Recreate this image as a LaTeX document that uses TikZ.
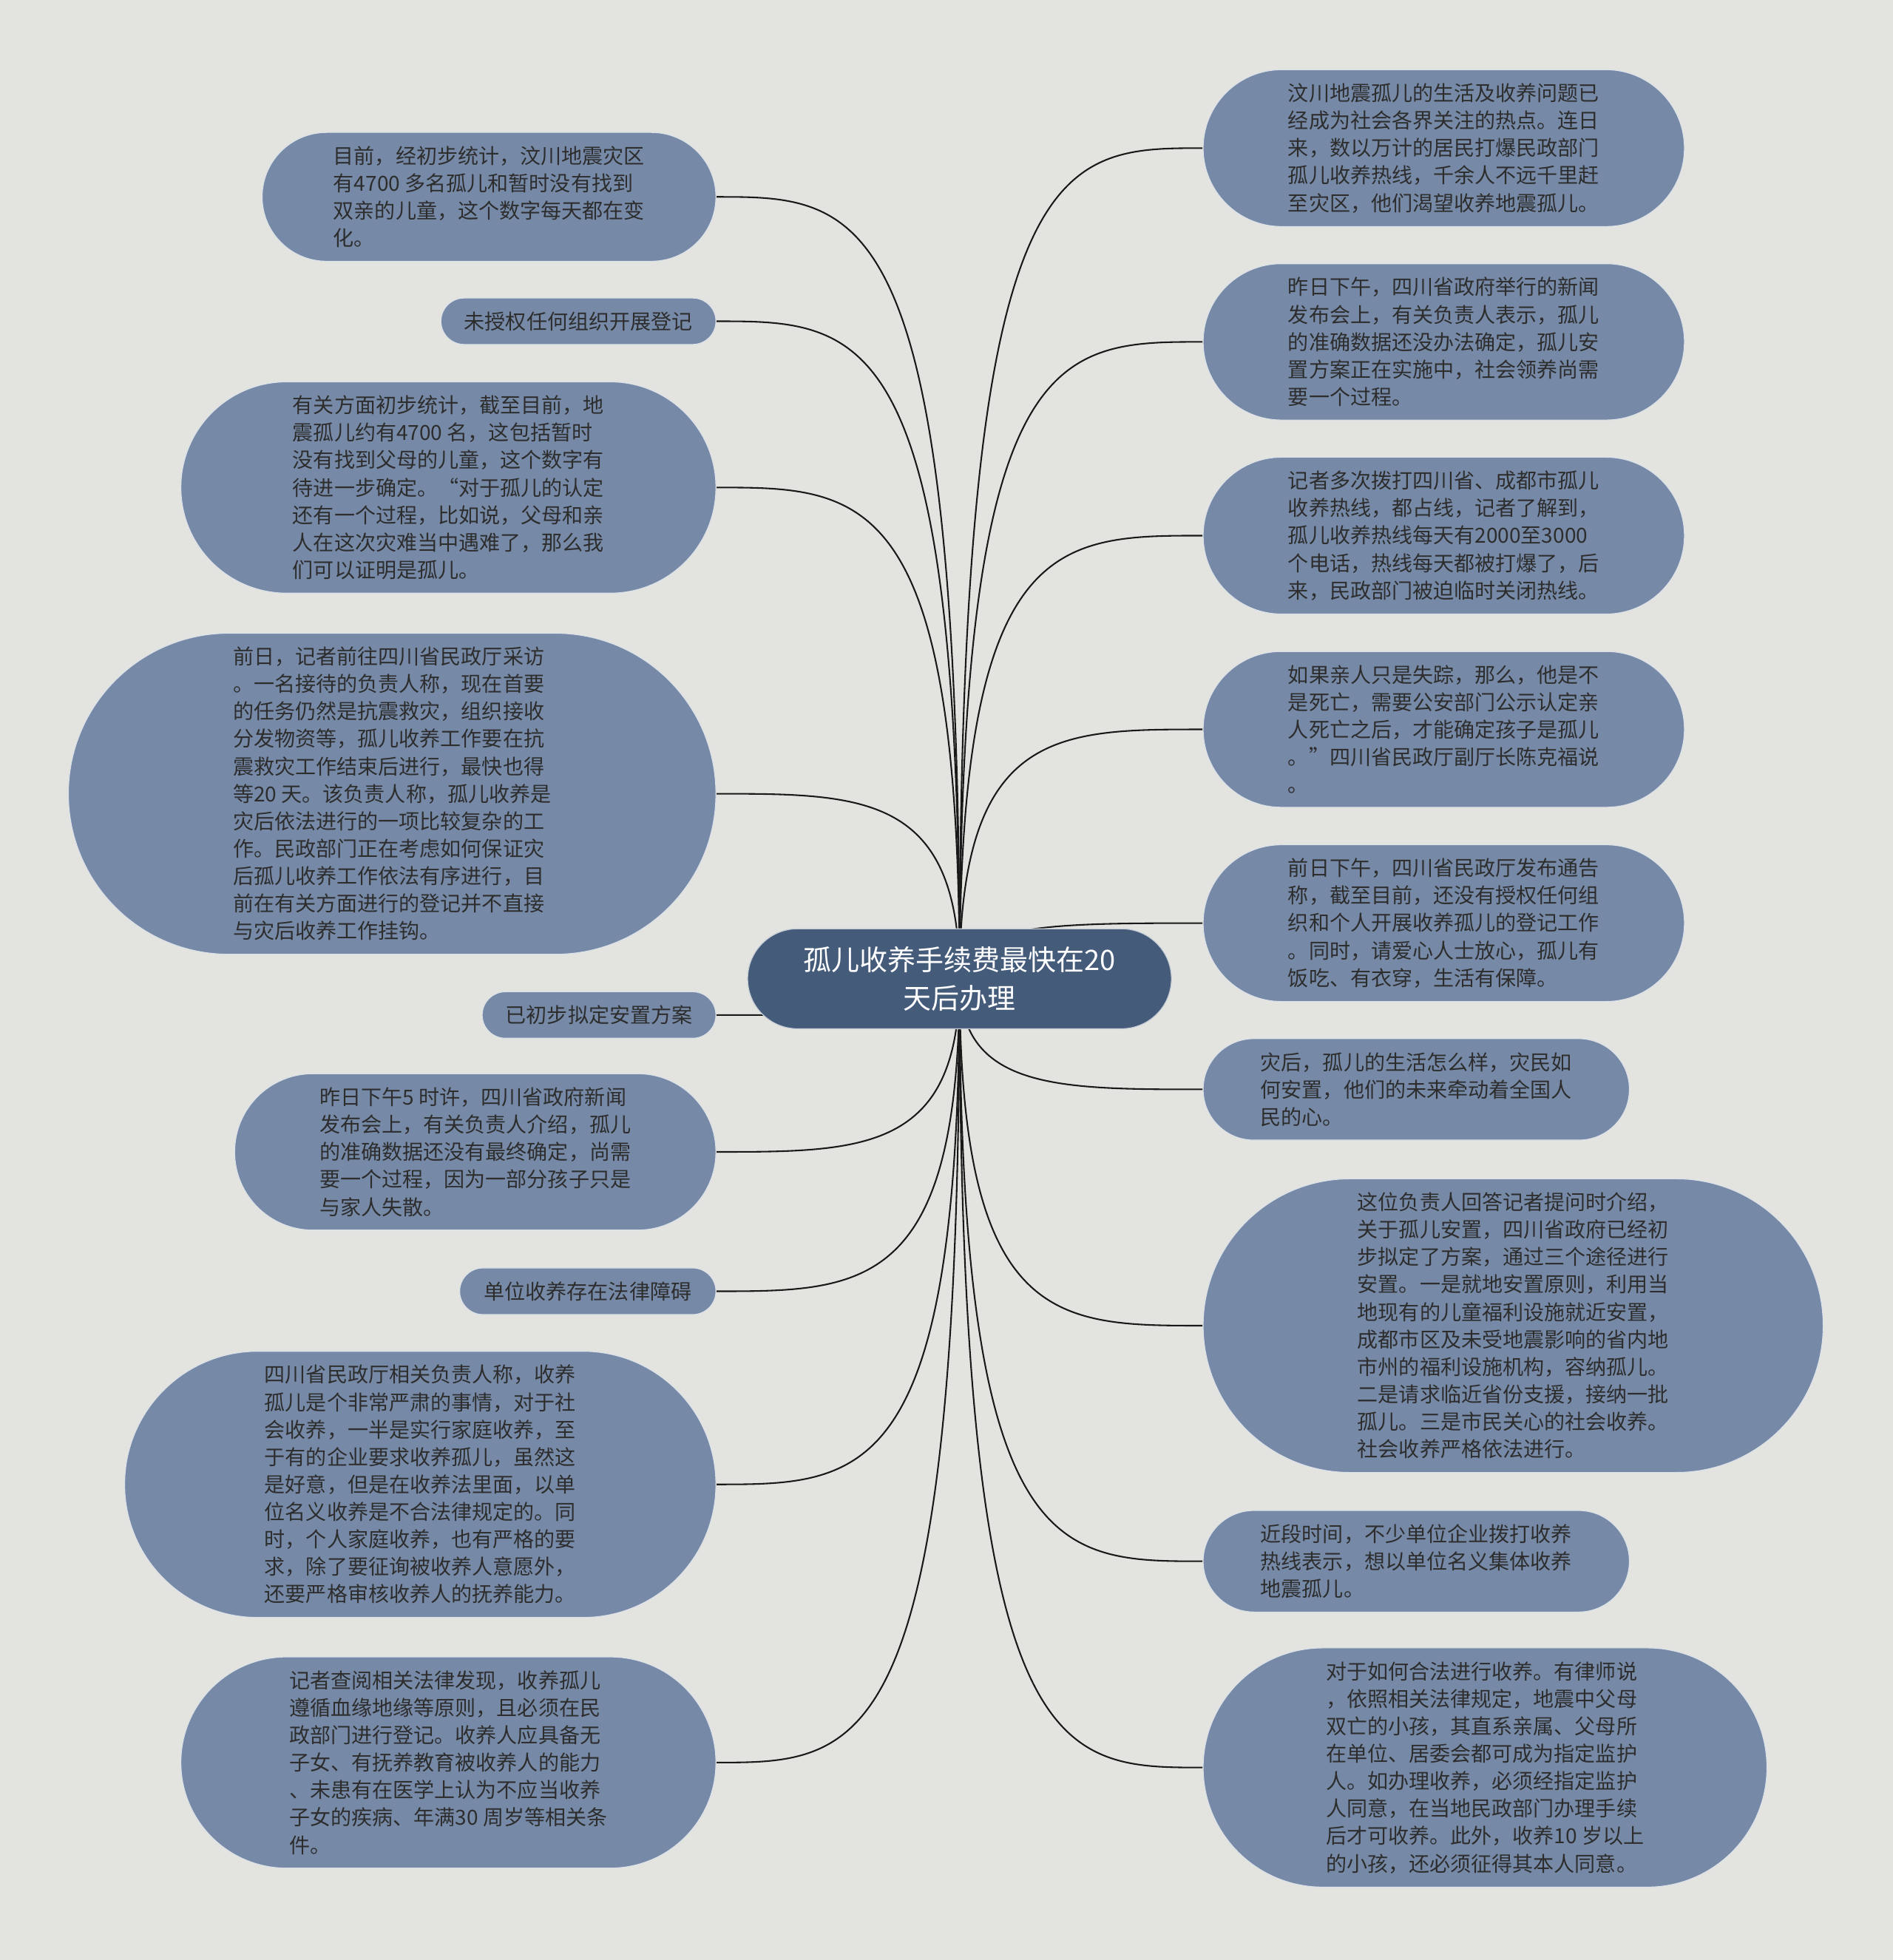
\documentclass[tikz,border=0pt]{standalone}
\usepackage{fontspec}
\setmainfont{Noto Sans CJK SC}
\usetikzlibrary{shapes.misc, calc}
\definecolor{paper}{RGB}{227,227,223}
\definecolor{leaffill}{RGB}{118,138,168}
\definecolor{hubfill}{RGB}{68,91,122}
\definecolor{leaftext}{RGB}{45,45,45}
\pgfdeclarelayer{paperlayer}
\pgfdeclarelayer{links}
\pgfsetlayers{paperlayer,links,main}

\begin{document}
\begin{tikzpicture}[x=0.02cm, y=-0.02cm,
  leaf/.style={rounded rectangle, fill=leaffill, draw=white!75!leaffill, line width=0.4pt,
    text=leaftext, align=left, inner xsep=2pt, inner ysep=6.2pt,
    font=\fontsize{9.45}{12.5}\selectfont},
  hub/.style={rounded rectangle, fill=hubfill, draw=white!70!hubfill, line width=0.4pt,
    text=white, align=center, inner xsep=2pt, inner ysep=8pt,
    font=\fontsize{12.8}{17.6}\selectfont},
  wd/.style={minimum width=(#1+7)*0.02cm},
  link/.style={line width=0.7pt, black!90}]

\begin{pgfonlayer}{paperlayer}
  \fill[paper] (0,0) rectangle (1514,1568);
\end{pgfonlayer}
\useasboundingbox (0,0) rectangle (1514,1568);

% centro
\node[hub, wd=339] (root) at (767.5,783) {孤儿收养手续费最快在20\\天后办理};

% lado esquerdo
\node[leaf, wd=363, anchor=east] (l1) at (573,157.5) {目前，经初步统计，汶川地震灾区\\有4700 多名孤儿和暂时没有找到\\双亲的儿童，这个数字每天都在变\\化。};
\node[leaf, wd=220, anchor=east] (l2) at (573,257) {未授权任何组织开展登记};
\node[leaf, wd=428, anchor=east] (l3) at (573,390) {有关方面初步统计，截至目前，地\\震孤儿约有4700 名，这包括暂时\\没有找到父母的儿童，这个数字有\\待进一步确定。“对于孤儿的认定\\还有一个过程，比如说，父母和亲\\人在这次灾难当中遇难了，那么我\\们可以证明是孤儿。};
\node[leaf, wd=518, anchor=east] (l4) at (573,635) {前日，记者前往四川省民政厅采访\\。一名接待的负责人称，现在首要\\的任务仍然是抗震救灾，组织接收\\分发物资等，孤儿收养工作要在抗\\震救灾工作结束后进行，最快也得\\等20 天。该负责人称，孤儿收养是\\灾后依法进行的一项比较复杂的工\\作。民政部门正在考虑如何保证灾\\后孤儿收养工作依法有序进行，目\\前在有关方面进行的登记并不直接\\与灾后收养工作挂钩。};
\node[leaf, wd=187, anchor=east] (l5) at (573,812) {已初步拟定安置方案};
\node[leaf, wd=385, anchor=east] (l6) at (573,921.5) {昨日下午5 时许，四川省政府新闻\\发布会上，有关负责人介绍，孤儿\\的准确数据还没有最终确定，尚需\\要一个过程，因为一部分孩子只是\\与家人失散。};
\node[leaf, wd=205, anchor=east] (l7) at (573,1033) {单位收养存在法律障碍};
\node[leaf, wd=473, anchor=east] (l8) at (573,1187.5) {四川省民政厅相关负责人称，收养\\孤儿是个非常严肃的事情，对于社\\会收养，一半是实行家庭收养，至\\于有的企业要求收养孤儿，虽然这\\是好意，但是在收养法里面，以单\\位名义收养是不合法律规定的。同\\时，个人家庭收养，也有严格的要\\求，除了要征询被收养人意愿外，\\还要严格审核收养人的抚养能力。};
\node[leaf, wd=428, anchor=east] (l9) at (573,1410) {记者查阅相关法律发现，收养孤儿\\遵循血缘地缘等原则，且必须在民\\政部门进行登记。收养人应具备无\\子女、有抚养教育被收养人的能力\\、未患有在医学上认为不应当收养\\子女的疾病、年满30 周岁等相关条\\件。};

% lado direito
\node[leaf, wd=385, anchor=west] (r1) at (962,118.5) {汶川地震孤儿的生活及收养问题已\\经成为社会各界关注的热点。连日\\来，数以万计的居民打爆民政部门\\孤儿收养热线，千余人不远千里赶\\至灾区，他们渴望收养地震孤儿。};
\node[leaf, wd=385, anchor=west] (r2) at (962,273.5) {昨日下午，四川省政府举行的新闻\\发布会上，有关负责人表示，孤儿\\的准确数据还没办法确定，孤儿安\\置方案正在实施中，社会领养尚需\\要一个过程。};
\node[leaf, wd=385, anchor=west] (r3) at (962,428.5) {记者多次拨打四川省、成都市孤儿\\收养热线，都占线，记者了解到，\\孤儿收养热线每天有2000至3000\\个电话，热线每天都被打爆了，后\\来，民政部门被迫临时关闭热线。};
\node[leaf, wd=385, anchor=west] (r4) at (962,583.5) {如果亲人只是失踪，那么，他是不\\是死亡，需要公安部门公示认定亲\\人死亡之后，才能确定孩子是孤儿\\。”四川省民政厅副厅长陈克福说\\。};
\node[leaf, wd=385, anchor=west] (r5) at (962,738.5) {前日下午，四川省民政厅发布通告\\称，截至目前，还没有授权任何组\\织和个人开展收养孤儿的登记工作\\。同时，请爱心人士放心，孤儿有\\饭吃、有衣穿，生活有保障。};
\node[leaf, wd=341, anchor=west] (r6) at (962,871.5) {灾后，孤儿的生活怎么样，灾民如\\何安置，他们的未来牵动着全国人\\民的心。};
\node[leaf, wd=496, anchor=west] (r7) at (962,1060.5) {这位负责人回答记者提问时介绍，\\关于孤儿安置，四川省政府已经初\\步拟定了方案，通过三个途径进行\\安置。一是就地安置原则，利用当\\地现有的儿童福利设施就近安置，\\成都市区及未受地震影响的省内地\\市州的福利设施机构，容纳孤儿。\\二是请求临近省份支援，接纳一批\\孤儿。三是市民关心的社会收养。\\社会收养严格依法进行。};
\node[leaf, wd=341, anchor=west] (r8) at (962,1249) {近段时间，不少单位企业拨打收养\\热线表示，想以单位名义集体收养\\地震孤儿。};
\node[leaf, wd=451, anchor=west] (r9) at (962,1414) {对于如何合法进行收养。有律师说\\，依照相关法律规定，地震中父母\\双亡的小孩，其直系亲属、父母所\\在单位、居委会都可成为指定监护\\人。如办理收养，必须经指定监护\\人同意，在当地民政部门办理手续\\后才可收养。此外，收养10 岁以上\\的小孩，还必须征得其本人同意。};

% ligações
\begin{pgfonlayer}{links}
  \foreach \n in {l1,l2,l3,l4,l5,l6,l7,l8,l9}
    \draw[link] (root.center) .. controls (root.center |- \n.east)
      and ($(root.center |- \n.east)!0.4!(\n.east)$) .. (\n.east);
  \foreach \n in {r1,r2,r3,r4,r5,r6,r7,r8,r9}
    \draw[link] (root.center) .. controls (root.center |- \n.west)
      and ($(root.center |- \n.west)!0.4!(\n.west)$) .. (\n.west);
\end{pgfonlayer}

\end{tikzpicture}
\end{document}
